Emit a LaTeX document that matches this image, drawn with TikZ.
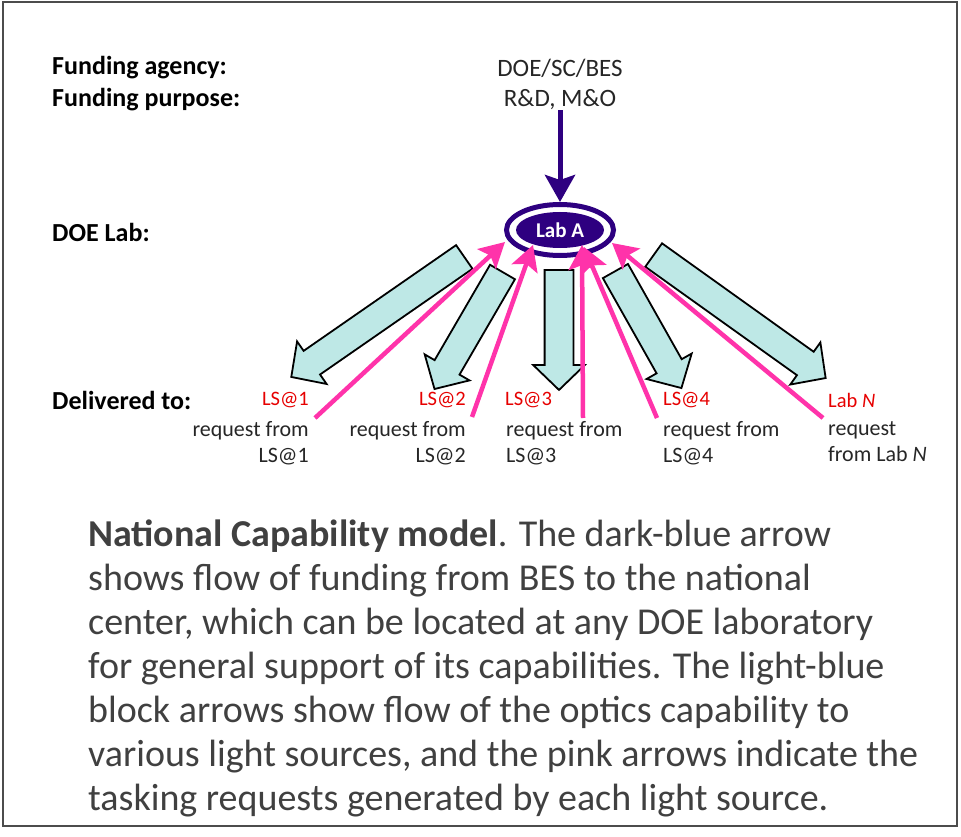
\documentclass[tikz,border=0pt]{standalone}
\usepackage{fontspec}
\setmainfont{Carlito}
\usepackage{tikz}
\usetikzlibrary{shapes.geometric, shapes.arrows, arrows.meta, positioning, calc}
\definecolor{labblue}{RGB}{46,0,128}
\definecolor{blockcyan}{RGB}{190,232,230}
\definecolor{reqpink}{RGB}{255,51,170}
\definecolor{lsred}{RGB}{230,0,0}
\definecolor{textgray}{RGB}{64,64,64}
\newcommand{\blockarrow}[2]{%
  \path let \p1=($(#2)-(#1)$), \n1={atan2(\y1,\x1)}, \n2={veclen(\x1,\y1)} in
    node[Block, minimum height=\n2, rotate=\n1] at ($(#1)!0.5!(#2)$) {};}

\begin{document}
\begin{tikzpicture}
  [
    x=1pt, y=-1pt,
    Head/.style={font=\fontsize{26}{30}\selectfont\bfseries, anchor=west, inner sep=0pt},
    Fund/.style={font=\fontsize{25}{30}\selectfont, text=black!85, inner sep=0pt},
    LS/.style={font=\fontsize{20.5}{24}\selectfont, text=lsred, inner sep=0pt},
    Req/.style={font=\fontsize{22}{26}\selectfont, text=black!85, inner sep=0pt},
    Block/.style={single arrow, draw=black, fill=blockcyan, line width=1.8pt,
      inner xsep=0pt, inner ysep=13.5pt, single arrow head extend=11.5pt,
      single arrow tip angle=92, single arrow head indent=0pt},
    Pink/.style={draw=reqpink, line width=4.5pt, -{Stealth[length=25pt, width=27pt, inset=5pt]}}
  ]
  \useasboundingbox (0,0) rectangle (961,837);
  \draw[black!70, line width=2pt] (3,2) rectangle (957,826);
  % Nodes
  \node[Head] (agency) at (52,68) {Funding agency:};
  \node[Head] (purpose) at (52,100) {Funding purpose:};
  \node[Head] (doelab) at (52,232) {DOE Lab:};
  \node[Head] (deliv) at (52,400) {Delivered to:};
  \node[Fund] (doe) at (560,68) {DOE/SC/BES};
  \node[Fund] (rdmo) at (560,100) {R\&D, M\&O};
  \node[ellipse, draw=labblue, line width=5pt, minimum width=107pt, minimum height=51pt] (laba) at (560,230) {};
  \node[ellipse, fill=labblue, minimum width=88pt, minimum height=36pt, text=white,
    font=\fontsize{21}{24}\selectfont\bfseries] (labin) at (laba) {Lab A};
  \node[LS, anchor=east] (ls1) at (309,400) {LS@1};
  \node[LS, anchor=east] (ls2) at (466,400) {LS@2};
  \node[LS, anchor=west] (ls3) at (505,400) {LS@3};
  \node[LS, anchor=west] (ls4) at (663,400) {LS@4};
  \node[LS, anchor=west] (lsn) at (828,400) {Lab \textit{N}};
  \node[Req, anchor=north east, align=right] (req1) at (309,421) {request from\\LS@1};
  \node[Req, anchor=north east, align=right] (req2) at (466,421) {request from\\LS@2};
  \node[Req, anchor=north west, align=left] (req3) at (506,421) {request from\\LS@3};
  \node[Req, anchor=north west, align=left] (req4) at (663,421) {request from\\LS@4};
  \node[Req, anchor=north west, align=left] (reqn) at (828,421) {request\\from Lab \textit{N}};
  \node[anchor=north west, inner sep=0pt, align=left, text=textgray,
    font=\fontsize{38}{44}\selectfont] (caption) at (88,520)
    {\textbf{National Capability model}. The dark-blue arrow\\
     shows flow of funding from BES to the national\\
     center, which can be located at any DOE laboratory\\
     for general support of its capabilities. The light-blue\\
     block arrows show flow of the optics capability to\\
     various light sources, and the pink arrows indicate the\\
     tasking requests generated by each light source.};
  % Block arrows
  \coordinate (s1) at (470,253); \coordinate (e1) at (297,373);
  \coordinate (s2) at (506,266); \coordinate (e2) at (438,383);
  \coordinate (s3) at (559,263); \coordinate (e3) at (559,383);
  \coordinate (s4) at (612,265); \coordinate (e4) at (678,382);
  \coordinate (s5) at (648,251); \coordinate (e5) at (820,374);
  \foreach \i in {1,...,5}{\blockarrow{s\i}{e\i}}
  % Request arrows
  \coordinate (p1) at (315,418);
  \coordinate (p2) at (472,417);
  \coordinate (p3) at (583,418);
  \coordinate (p4) at (657,418);
  \coordinate (p5) at (823,418);
  \path [Pink] (p1) -- ($(laba)+(-55,12)$);
  \path [Pink] (p2) -- ($(laba)+(-27,15)$);
  \path [Pink] (p3) -- ($(laba)+(22,15)$);
  \path [Pink] (p4) -- ($(laba)+(24,17)$);
  \path [Pink] (p5) -- ($(laba)+(52,13)$);
  % Funding
  \path [draw=labblue, line width=5pt, -{Stealth[length=27pt, width=30pt, inset=5pt]}] (rdmo.south) -- (laba.north);
\end{tikzpicture}
\end{document}
